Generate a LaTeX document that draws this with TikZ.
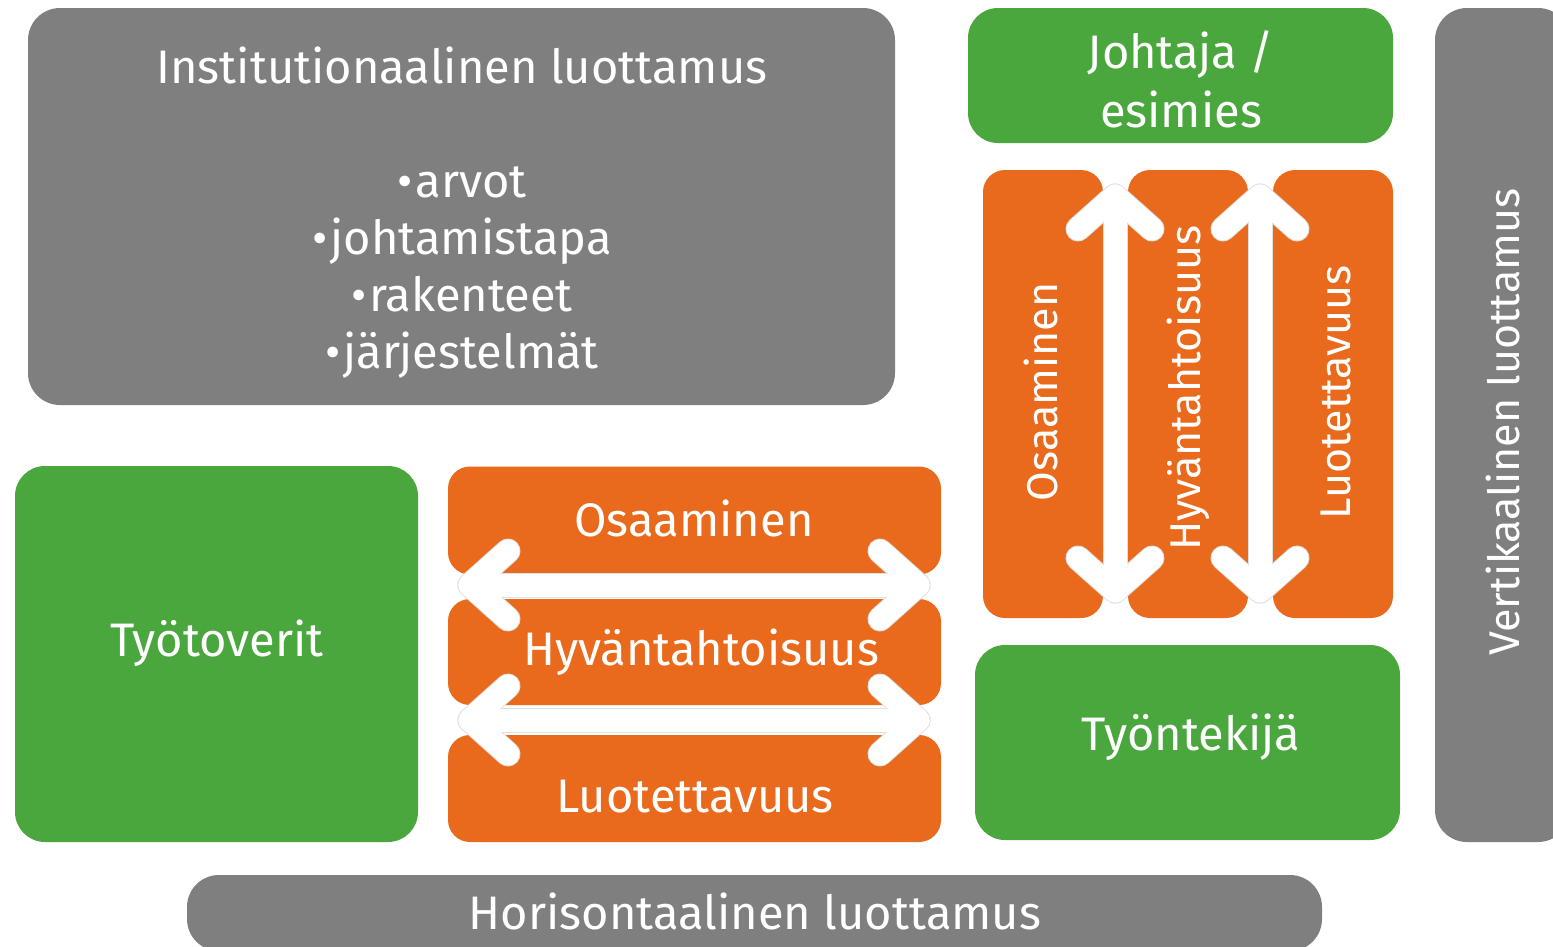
\documentclass[tikz,border=0pt]{standalone}
\usepackage{fontspec}
\setmainfont{Fira Sans}
\usetikzlibrary{calc}
\definecolor{cgray}{RGB}{128,127,128}
\definecolor{cgreen}{RGB}{74,167,61}
\definecolor{corange}{RGB}{233,106,28}
\newcommand{\bul}{•\kern3pt}
\begin{document}
\begin{tikzpicture}[x=1pt,y=-1pt,
  box/.style={draw=none, rounded corners=#1, inner sep=0pt, text=white, align=center},
  gbox/.style={box=32, fill=cgray},
  grbox/.style={box=30, fill=cgreen},
  obox/.style={box=22, fill=corange},
  big/.style={font=\fontsize{47}{57}\selectfont},
  vbig/.style={font=\fontsize{43}{52}\selectfont},
  arrline/.style={draw=white, line width=23pt, line cap=round, line join=round},
  arrout/.style={draw=black!12, line width=25pt, line cap=round, line join=round}]
\useasboundingbox (0,0) rectangle (1553,946);
\clip (0,0) rectangle (1553,946);
\fill[white] (0,0) rectangle (1553,946);

% gray boxes
\node[gbox, minimum width=867, minimum height=397] (inst) at (461.5,206.5) {};
\node[big, text=white, align=center] (insttext) at (462,213)
  {Institutionaalinen luottamus\\[57pt]
   \bul arvot\\ \bul johtamistapa\\ \bul rakenteet\\ \bul järjestelmät};
\node[gbox, minimum width=135, minimum height=834] (vert) at (1502.5,425) {};
\node[vbig, rotate=90, text=white] (verttext) at (1503,422) {Vertikaalinen luottamus};
\node[gbox, minimum width=1135, minimum height=76] (hor) at (754.5,913) {};
\node[big, text=white] (hortext) at (755,911) {Horisontaalinen luottamus};

% green boxes
\node[grbox, minimum width=425, minimum height=135] (joht) at (1180.5,75.5) {};
\node[big, text=white, align=center] (johttext) at (1181,79) {Johtaja /\\[2pt]esimies};
\node[grbox, minimum width=403, minimum height=376] (tt) at (216.5,654) {};
\node[big, text=white] (tttext) at (217,643) {Työtoverit};
\node[grbox, minimum width=425, minimum height=195] (tk) at (1187.5,742.5) {};
\node[big, text=white] (tktext) at (1191,737) {Työntekijä};

% horizontal orange boxes
\node[obox, minimum width=493, minimum height=108] (ho1) at (694.5,520.5) {};
\node[obox, minimum width=493, minimum height=106] (ho2) at (694.5,652) {};
\node[obox, minimum width=493, minimum height=107] (ho3) at (694.5,788.5) {};
\node[big, text=white] (ho1t) at (694,518) {Osaaminen};
\node[big, text=white] (ho3t) at (695,797) {Luotettavuus};

% vertical orange boxes
\node[obox, minimum width=120, minimum height=448] (vo1) at (1043,394) {};
\node[obox, minimum width=120, minimum height=448] (vo2) at (1188,394) {};
\node[obox, minimum width=120, minimum height=448] (vo3) at (1333,394) {};
\node[vbig, rotate=90, text=white] (vo1t) at (1041,392) {Osaaminen};
\node[vbig, rotate=90, text=white] (vo3t) at (1336,392) {Luotettavuus};

% arrow coordinates
\coordinate (hL1) at (470,585); \coordinate (hR1) at (918,585);
\coordinate (hL2) at (470,720); \coordinate (hR2) at (918,720);
\coordinate (vT1) at (1115,196); \coordinate (vB1) at (1115,591);
\coordinate (vT2) at (1260,196); \coordinate (vB2) at (1260,591);

\foreach \a/\b in {hL1/hR1, hL2/hR2}{
  \foreach \s in {arrout, arrline}{
    \draw[\s] (\a) -- (\b);
    \draw[\s] ($(\a)+(38,-34)$) -- (\a) -- ($(\a)+(38,34)$);
    \draw[\s] ($(\b)+(-38,-34)$) -- (\b) -- ($(\b)+(-38,34)$);
  }
}
\foreach \a/\b in {vT1/vB1, vT2/vB2}{
  \foreach \s in {arrout, arrline}{
    \draw[\s] (\a) -- (\b);
    \draw[\s] ($(\a)+(-37,33)$) -- (\a) -- ($(\a)+(37,33)$);
    \draw[\s] ($(\b)+(-37,-33)$) -- (\b) -- ($(\b)+(37,-33)$);
  }
}
% texts over arrows
\node[big, text=white] (ho2t) at (701,652) {Hyväntahtoisuus};
\node[vbig, rotate=90, text=white] (vo2t) at (1188,388) {Hyväntahtoisuus};
\end{tikzpicture}
\end{document}
